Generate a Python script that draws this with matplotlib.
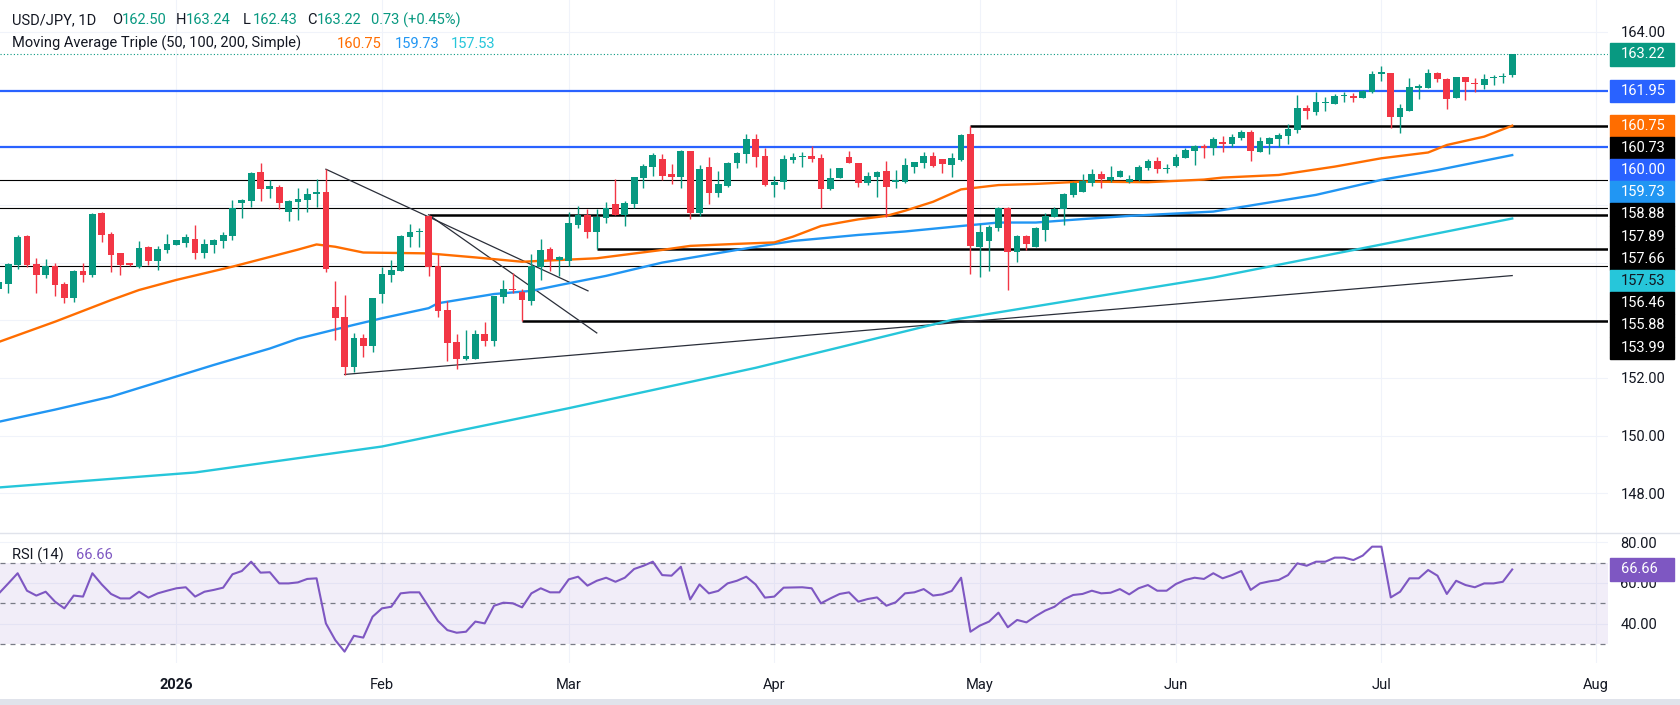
import matplotlib.pyplot as plt
import numpy as np
from matplotlib.patches import Rectangle

plt.rcParams["font.family"] = ["Roboto", "DejaVu Sans"]

BULL, BEAR = "#089981", "#f23645"
TEXT = "#131722"
GRID = "#f0f3fa"

# daily bars, index 0 = 2025-12-08 (weekdays only); bar -1 is cut by the left edge
FIRST_BAR = -1
opens = [155.10, 155.26, 155.92, 156.93, 155.94, 155.57, 155.88, 155.26, 154.76, 155.71, 155.57,
         157.73, 156.99, 156.33, 155.96, 155.86, 156.55, 156.06, 156.44, 156.61, 156.67, 156.82,
         156.32, 156.61, 156.76, 156.93, 158.08, 158.15, 159.13, 158.55, 158.61, 157.77, 158.11,
         158.17, 158.37, 158.46, 154.47, 154.13, 152.39, 153.39, 153.12, 154.91, 155.58, 155.72,
         156.90, 157.05, 157.62, 155.88, 154.36, 153.26, 152.67, 152.67, 153.52, 153.29, 154.82,
         155.07, 154.97, 154.68, 155.86, 156.47, 156.09, 156.06, 157.32, 157.65, 157.07, 157.54,
         158.02, 157.65, 158.03, 158.95, 159.33, 159.58, 159.07, 158.98, 159.87, 157.71, 159.33,
         158.43, 158.66, 159.47, 159.77, 160.29, 159.70, 158.69, 158.81, 159.56, 159.67, 159.70,
         159.62, 158.55, 158.95, 159.67, 159.47, 158.77, 158.98, 159.18, 158.81, 158.81, 159.33,
         159.47, 159.70, 159.58, 159.39, 159.56, 160.46, 156.55, 156.76, 157.21, 157.88, 156.38,
         156.92, 156.55, 157.13, 157.59, 157.85, 158.35, 158.46, 158.77, 159.07, 158.87, 158.96,
         158.79, 158.87, 159.29, 159.53, 159.25, 159.36, 159.64, 159.88, 160.05, 159.99, 160.20,
         160.10, 160.33, 160.52, 159.85, 160.12, 160.29, 160.40, 160.60, 161.37, 161.24, 161.53,
         161.50, 161.77, 161.79, 161.70, 161.93, 162.56, 162.57, 161.06, 161.27, 162.07, 162.05,
         162.57, 162.37, 161.70, 162.43, 162.22, 162.16, 162.40, 162.43, 162.50]
highs = [155.40, 155.98, 156.96, 156.95, 156.17, 156.13, 155.98, 155.31, 155.75, 155.98, 157.73,
         157.77, 157.07, 156.35, 156.00, 156.75, 156.59, 156.59, 156.99, 156.80, 156.99, 157.31,
         156.82, 156.82, 157.07, 158.17, 158.20, 159.16, 159.47, 158.87, 158.69, 158.17, 158.58,
         158.58, 158.89, 159.24, 155.36, 154.88, 153.55, 153.52, 154.77, 155.84, 156.09, 156.96,
         157.34, 157.19, 157.66, 156.29, 154.67, 153.51, 153.66, 153.66, 153.95, 154.85, 155.38,
         155.63, 155.08, 156.30, 156.83, 156.53, 156.23, 157.76, 157.96, 157.86, 157.86, 158.11,
         158.89, 158.15, 158.96, 159.42, 159.79, 159.77, 159.42, 159.91, 159.87, 159.39, 159.67,
         159.19, 159.50, 159.85, 160.45, 160.46, 159.99, 159.00, 159.73, 159.79, 159.85, 160.05,
         159.77, 159.27, 159.29, 159.87, 159.47, 159.15, 159.19, 159.53, 159.21, 159.62, 159.49,
         159.85, 159.85, 159.58, 159.81, 160.46, 160.73, 157.33, 157.31, 157.92, 157.92, 156.96,
         156.96, 157.25, 157.71, 157.92, 158.43, 158.81, 159.07, 159.25, 159.19, 159.35, 159.21,
         159.04, 159.39, 159.58, 159.65, 159.41, 159.76, 159.99, 160.08, 160.10, 160.37, 160.40,
         160.45, 160.60, 160.60, 160.37, 160.37, 160.49, 160.81, 161.81, 161.47, 161.93, 161.73,
         161.84, 161.93, 161.87, 161.99, 162.65, 162.83, 162.57, 161.49, 162.39, 162.20, 162.72,
         162.60, 162.42, 162.45, 162.45, 162.39, 162.53, 162.51, 162.57, 163.24]
lows = [155.00, 154.94, 155.77, 155.84, 154.94, 155.48, 154.85, 154.60, 154.62, 155.31, 155.51,
        156.73, 155.69, 155.57, 155.89, 155.80, 155.92, 155.74, 156.32, 156.60, 156.55, 156.13,
        156.17, 156.32, 156.50, 156.79, 157.54, 157.92, 158.12, 158.23, 157.85, 157.46, 157.48,
        157.77, 157.94, 155.69, 153.32, 152.10, 152.22, 152.72, 152.89, 154.59, 155.34, 155.72,
        156.55, 156.53, 155.55, 154.13, 152.57, 152.31, 152.62, 152.67, 153.09, 153.09, 154.59,
        154.94, 153.99, 154.54, 155.38, 155.72, 155.55, 155.89, 157.19, 156.87, 156.46, 157.39,
        157.65, 157.27, 157.88, 158.58, 159.00, 158.87, 158.73, 158.60, 157.51, 157.62, 158.03,
        158.26, 158.63, 159.29, 159.47, 159.33, 158.66, 158.29, 158.55, 159.44, 159.33, 159.50,
        157.88, 158.52, 158.95, 159.44, 158.61, 158.69, 158.29, 157.59, 158.58, 158.75, 159.12,
        159.29, 159.33, 159.12, 158.98, 159.54, 155.59, 155.51, 155.72, 157.11, 155.05, 156.03,
        156.44, 156.53, 156.76, 157.59, 157.30, 158.29, 158.46, 158.66, 158.60, 158.81, 158.96,
        158.77, 158.84, 159.21, 159.12, 159.12, 159.33, 159.62, 159.39, 159.62, 159.73, 159.85,
        160.02, 160.25, 159.53, 159.85, 159.76, 160.02, 160.12, 160.49, 160.98, 161.12, 161.27,
        161.50, 161.56, 161.56, 161.70, 161.87, 162.31, 160.66, 160.51, 161.27, 161.66, 162.05,
        162.25, 161.32, 161.70, 161.64, 161.91, 162.02, 162.16, 162.22, 162.43]
closes = [155.34, 155.95, 156.90, 155.92, 155.57, 155.88, 155.23, 154.76, 155.71, 155.57, 157.69,
          156.96, 156.27, 155.92, 155.93, 156.52, 156.06, 156.47, 156.65, 156.79, 156.88, 156.32,
          156.64, 156.79, 156.96, 157.88, 158.17, 159.12, 158.55, 158.66, 158.06, 158.14, 158.21,
          158.38, 158.46, 155.78, 154.09, 152.39, 153.39, 153.12, 154.77, 155.60, 155.75, 156.94,
          157.06, 157.11, 155.86, 154.33, 153.20, 152.67, 152.76, 153.51, 153.29, 154.85, 155.07,
          155.05, 154.70, 155.89, 156.44, 156.09, 156.21, 157.39, 157.65, 157.07, 157.57, 157.88,
          157.65, 158.06, 158.96, 159.35, 159.73, 159.02, 158.98, 159.87, 157.71, 159.25, 158.43,
          158.73, 159.47, 159.81, 160.29, 159.68, 158.69, 158.81, 159.59, 159.68, 159.69, 159.59,
          158.55, 158.92, 159.27, 159.44, 158.77, 159.00, 159.15, 158.63, 158.87, 159.39, 159.49,
          159.70, 159.36, 159.41, 159.62, 160.43, 156.59, 157.05, 157.22, 157.88, 156.38, 156.92,
          156.65, 157.19, 157.63, 157.86, 158.37, 158.77, 158.84, 159.07, 158.90, 158.96, 159.18,
          158.90, 159.31, 159.53, 159.24, 159.28, 159.65, 159.91, 160.05, 159.99, 160.28, 160.12,
          160.35, 160.52, 159.88, 160.22, 160.31, 160.43, 160.64, 161.37, 161.27, 161.56, 161.56,
          161.78, 161.79, 161.72, 161.95, 162.54, 162.58, 161.06, 161.37, 162.08, 162.11, 162.57,
          162.36, 161.66, 162.43, 162.25, 162.19, 162.36, 162.42, 162.49, 163.22]
rsi = [54.9, 59.8, 64.8, 56.2, 53.8, 55.7, 50.8, 47.5, 53.8, 53.3, 64.8, 59.3, 54.6, 52.4, 52.4,
       55.7, 52.8, 54.9, 56.2, 57.4, 57.9, 53.3, 55.7, 56.6, 57.7, 64.3, 65.9, 70.5, 65.1, 65.3,
       59.8, 59.8, 60.3, 62.0, 62.3, 40.1, 31.9, 26.2, 34.0, 33.1, 43.4, 47.5, 48.3, 54.9, 55.4,
       55.4, 48.3, 41.3, 36.8, 35.5, 36.0, 41.0, 40.1, 48.8, 50.3, 50.0, 48.0, 54.9, 57.4, 55.4,
       55.4, 61.8, 63.1, 58.7, 61.1, 62.6, 60.6, 62.6, 66.9, 68.5, 70.5, 63.9, 63.6, 68.0, 51.9,
       59.3, 54.9, 56.1, 59.8, 61.1, 63.1, 59.3, 52.8, 53.3, 57.7, 57.8, 57.9, 57.4, 50.0, 52.4,
       54.6, 55.4, 50.8, 52.1, 52.9, 48.8, 50.5, 54.9, 55.4, 57.0, 53.8, 54.4, 56.1, 62.6, 36.0,
       39.0, 41.0, 45.4, 38.2, 41.8, 40.6, 43.7, 46.4, 48.3, 51.9, 54.1, 54.6, 56.2, 54.9, 55.2,
       57.0, 54.4, 57.4, 59.0, 56.2, 56.2, 59.5, 61.5, 62.6, 62.0, 64.8, 62.3, 63.9, 65.9, 56.6,
       59.8, 60.8, 61.5, 63.9, 69.7, 68.5, 70.5, 70.5, 72.5, 72.5, 71.3, 73.5, 77.9, 77.9, 52.9,
       55.7, 62.3, 62.3, 66.4, 63.6, 54.6, 61.1, 59.0, 57.9, 59.8, 59.8, 60.6, 66.66]

# simple moving averages at a few bars
ma50_idx = [-1, 5, 11, 14, 18, 24, 31, 33, 35, 38, 45, 50, 55, 63, 70, 73, 78, 82, 84, 87, 91,
            94, 96, 99, 102, 106, 110, 115, 122, 128, 130, 136, 142, 147, 152, 154, 158, 161]
ma50_val = [153.25, 153.95, 154.70, 155.05, 155.40, 155.86, 156.45, 156.63, 156.55, 156.35,
            156.32, 156.18, 156.03, 156.15, 156.44, 156.58, 156.65, 156.70, 156.90, 157.27,
            157.50, 157.62, 157.80, 158.11, 158.54, 158.69, 158.73, 158.81, 158.79, 158.88,
            158.95, 159.04, 159.33, 159.62, 159.82, 160.08, 160.37, 160.75]
ma100_idx = [-1, 5, 11, 16, 22, 28, 31, 34, 37, 40, 45, 46, 52, 56, 59, 64, 70, 78, 84, 91, 96,
             102, 106, 110, 115, 120, 129, 140, 147, 153, 161]
ma100_val = [150.48, 150.90, 151.35, 151.85, 152.45, 153.02, 153.36, 153.60, 153.84, 154.07,
             154.42, 154.59, 154.91, 155.02, 155.22, 155.54, 156.00, 156.44, 156.75, 156.96,
             157.08, 157.27, 157.39, 157.39, 157.51, 157.62, 157.77, 158.35, 158.87, 159.21,
             159.73]
ma200_idx = [-1, 20, 40, 60, 80, 101, 115, 129, 145, 161]
ma200_val = [148.20, 148.72, 149.62, 150.95, 152.35, 154.01, 154.75, 155.48, 156.50, 157.53]

# drawn levels: full-width lines and rays starting at a bar
blue_levels = [161.95, 160.00]
thin_levels = [158.88, 157.89, 155.88]
ray_start = [103, 45, 63, 55]
ray_level = [160.73, 157.66, 156.46, 153.99]
trend_lines = [((34, 159.24), (62.06, 155.02)),
               ((45, 157.66), (63.0, 153.56)),
               ((36, 152.12), (161, 155.55))]

month_idx = [18, 40, 60, 82, 104, 125, 147, 170]
month_lbl = ["2026", "Feb", "Mar", "Apr", "May", "Jun", "Jul", "Aug"]
# price scale ticks that are not hidden behind the tags
shown_ticks = [164, 152, 150, 148]

W, H = 1681, 705
PANEL_R, SPLIT, BOTTOM = 1608, 533, 663
idx = np.arange(FIRST_BAR, FIRST_BAR + len(closes))
o, hi, lo, c = map(np.asarray, (opens, highs, lows, closes))
up = c >= o
colors = np.where(up, BULL, BEAR)

fig = plt.figure(figsize=(W / 100, H / 100), dpi=100)
fig.patch.set_facecolor("white")
ax = fig.add_axes([0, 1 - SPLIT / H, PANEL_R / W, SPLIT / H])
rax = fig.add_axes([0, 1 - BOTTOM / H, PANEL_R / W, (BOTTOM - SPLIT) / H], sharex=ax)

bar_px = 9.341
ax.set_xlim(-8.3 / bar_px, (PANEL_R - 8.3) / bar_px)
ax.set_ylim(146.62, 165.11)
rax.set_ylim(20.59, 84.63)

for a in (ax, rax):
    for s in a.spines.values():
        s.set_visible(False)
    a.set_xticks(month_idx)
    a.grid(True, color=GRID, lw=0.8)
    a.set_axisbelow(True)
    a.yaxis.tick_right()
    a.tick_params(length=0, labelsize=10.5, labelcolor=TEXT, pad=9)

# price panel
ticks = np.arange(148, 165, 2)
ax.set_yticks(ticks)
ax.set_yticklabels([f"{t:.2f}" if t in shown_ticks else "" for t in ticks])
ax.tick_params(axis="x", labelbottom=False)

for v in blue_levels:
    ax.axhline(v, color="#2962ff", lw=1.6, zorder=2)
for v in thin_levels:
    ax.axhline(v, color="black", lw=0.8, zorder=2)
for s, v in zip(ray_start, ray_level):
    ax.hlines(v, s, ax.get_xlim()[1], color="black", lw=1.8, zorder=2)
for (x0, y0), (x1, y1) in trend_lines:
    ax.plot([x0, x1], [y0, y1], color="#2a2e39", lw=0.9, zorder=2)

ax.plot(ma200_idx, ma200_val, color="#26c6da", lw=1.7, zorder=3)
ax.plot(ma100_idx, ma100_val, color="#2196f3", lw=1.7, zorder=3)
ax.plot(ma50_idx, ma50_val, color="#ff6d00", lw=1.7, zorder=3)

ax.vlines(idx, lo, hi, color=colors, lw=1.0, zorder=4)
body = np.maximum(np.abs(c - o), 0.04)
ax.bar(idx, body, bottom=np.minimum(o, c), width=0.72, color=colors, lw=0, zorder=5)

ax.axhline(c[-1], color=BULL, lw=0.8, ls=(0, (1, 2)), zorder=3)

# price scale tags, stacked downwards like the platform does
tags = [(c[-1], BULL, "white"), (blue_levels[0], "#2962ff", "white"),
        (ma50_val[-1], "#ff6d00", "white"), (ray_level[0], "black", "white"),
        (blue_levels[1], "#2962ff", "white"), (ma100_val[-1], "#2196f3", "white"),
        (thin_levels[0], "black", "white"), (thin_levels[1], "black", "white"),
        (ray_level[1], "black", "white"), (ma200_val[-1], "#26c6da", TEXT),
        (ray_level[2], "black", "white"), (thin_levels[2], "black", "white"),
        (ray_level[3], "black", "white")]
tag_h = 22.2 / 28.83
ytr = ax.get_yaxis_transform()
prev = None
for v, bg, fg in sorted(tags, key=lambda t: -t[0]):
    y = v if prev is None else min(v, prev - tag_h)
    prev = y
    ax.add_patch(Rectangle((1610 / PANEL_R, y - tag_h / 2), 64 / PANEL_R, tag_h,
                           transform=ytr, color=bg, clip_on=False, zorder=10))
    ax.text(1621 / PANEL_R, y, f"{v:.2f}", transform=ytr, color=fg, fontsize=10.5,
            va="center", ha="left", clip_on=False, zorder=11)

# RSI panel
rax.axhspan(30, 70, color="#7e57c2", alpha=0.1, lw=0)
for v in (70, 50, 30):
    rax.axhline(v, color="#787b86", lw=0.9, ls=(0, (4, 4)))
rax.plot(idx, rsi, color="#7e57c2", lw=1.5, zorder=4)
rax.set_yticks([40, 60, 80])
rax.yaxis.set_major_formatter(plt.FormatStrFormatter("%.2f"))
rax.set_xticklabels(month_lbl)
rax.tick_params(axis="x", pad=11)
rax.get_xticklabels()[0].set_fontweight("bold")
rtr = rax.get_yaxis_transform()
rh = 22.2 / 2.03
rax.add_patch(Rectangle((1610 / PANEL_R, rsi[-1] - rh / 2), 64 / PANEL_R, rh,
                        transform=rtr, color="#7e57c2", clip_on=False, zorder=10))
rax.text(1621 / PANEL_R, rsi[-1], f"{rsi[-1]:.2f}", transform=rtr, color="white",
         fontsize=10.5, va="center", ha="left", clip_on=False, zorder=11)

# separators
fig.add_artist(plt.Line2D([0, 1], [1 - SPLIT / H] * 2, color="#e0e3eb", lw=1))
fig.add_artist(Rectangle((0, 0), 1, 6 / H, color="#e0e3eb", lw=0))

# legends
def ftext(x, y, s, color=TEXT):
    fig.text(x / W, 1 - y / H, s, color=color, fontsize=10.5, va="center", ha="left")

chg = c[-1] - c[-2]
ftext(12.5, 20.5, "USD/JPY, 1D")
for x, lab, val in [(112, "O", o[-1]), (176, "H", hi[-1]), (243, "L", lo[-1]), (307, "C", c[-1])]:
    ftext(x, 20.5, lab)
    ftext(x + 9.5, 20.5, f"{val:.2f}", BULL)
ftext(371, 20.5, f"{chg:.2f} ({chg / c[-2] * 100:+.2f}%)", BULL)
ftext(12.5, 43.5, "Moving Average Triple (50, 100, 200, Simple)")
ftext(337, 43.5, f"{ma50_val[-1]:.2f}", "#ff6d00")
ftext(395, 43.5, f"{ma100_val[-1]:.2f}", "#2196f3")
ftext(451, 43.5, f"{ma200_val[-1]:.2f}", "#26c6da")
ftext(12.5, 555, "RSI (14)")
ftext(76, 555, f"{rsi[-1]:.2f}", "#7e57c2")

fig.savefig("out.png", dpi=100)
